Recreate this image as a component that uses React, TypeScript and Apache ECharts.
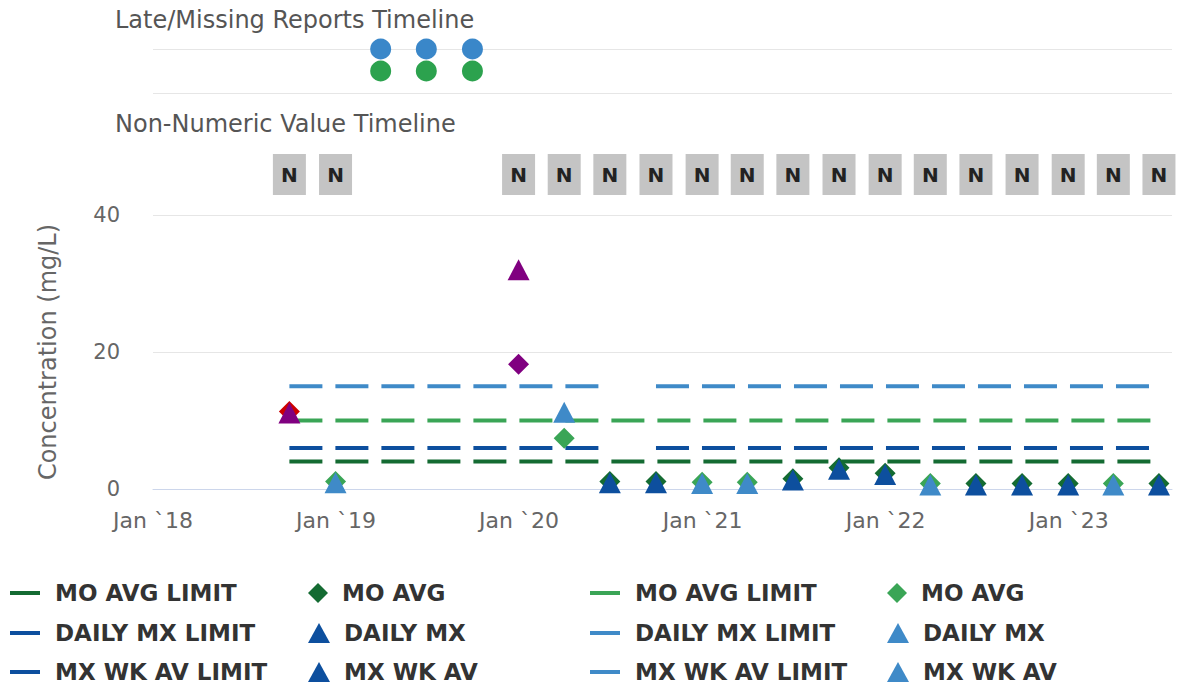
import React, { useEffect, useRef } from "react";
import * as echarts from "echarts";

const FONT = "'DejaVu Sans', Verdana, sans-serif";
const X_MIN = "2018-01-01";
const X_MAX = "2023-07-26";
const YEAR = 365 * 24 * 3600 * 1000;

// Late / missing reports (two rows: top = blue, bottom = green)
const lateDates = ["2019-03-31", "2019-06-30", "2019-09-30"];
// Non-numeric value flags
const nonNumericDates = [
  "2018-09-30", "2018-12-31", "2019-12-31", "2020-03-31", "2020-06-30", "2020-09-30",
  "2020-12-31", "2021-03-31", "2021-06-30", "2021-09-30", "2021-12-31", "2022-03-31",
  "2022-06-30", "2022-09-30", "2022-12-31", "2023-03-31", "2023-06-30",
];

// Limits: segments [start, end] with value
const moAvgLimitDark = { value: 4, segments: [["2018-09-30", "2023-06-30"]] };
const moAvgLimitLight = { value: 10, segments: [["2018-09-30", "2023-06-30"]] };
const dailyMxLimitDark = { value: 6, segments: [["2018-09-30", "2020-06-30"], ["2020-09-30", "2023-06-30"]] };
const dailyMxLimitLight = { value: 15, segments: [["2018-09-30", "2020-06-30"], ["2020-09-30", "2023-06-30"]] };

// Measured values, dark set
const moAvgDarkDates = ["2018-09-30", "2020-06-30", "2020-09-30", "2021-06-30", "2021-09-30", "2021-12-31", "2022-06-30", "2022-09-30", "2022-12-31", "2023-06-30"];
const moAvgDarkValues = [11.3, 1.1, 1.1, 1.5, 3.1, 2.3, 0.8, 0.8, 0.8, 0.8];
const dailyMxDarkDates = ["2018-09-30", "2020-06-30", "2020-09-30", "2021-06-30", "2021-09-30", "2021-12-31", "2022-06-30", "2022-09-30", "2022-12-31", "2023-06-30"];
const dailyMxDarkValues = [11.1, 0.9, 0.9, 1.3, 2.9, 2.1, 0.6, 0.6, 0.6, 0.6];
// Measured values, light set
const moAvgLightDates = ["2018-12-31", "2019-12-31", "2020-03-31", "2020-12-31", "2021-03-31", "2022-03-31", "2023-03-31"];
const moAvgLightValues = [1.1, 18.2, 7.4, 1.0, 1.0, 0.8, 0.8];
const dailyMxLightDates = ["2018-12-31", "2019-12-31", "2020-03-31", "2020-12-31", "2021-03-31", "2022-03-31", "2023-03-31"];
const dailyMxLightValues = [0.9, 32, 11.2, 0.8, 0.8, 0.6, 0.6];

// Exceedance highlight colours (by date)
const moAvgDarkExceed: Record<string, string> = { "2018-09-30": "#cc0000" };
const dailyMxDarkExceed: Record<string, string> = { "2018-09-30": "#800080" };
const moAvgLightExceed: Record<string, string> = { "2019-12-31": "#800080" };
const dailyMxLightExceed: Record<string, string> = { "2019-12-31": "#800080" };

const DARK_GREEN = "#146b32";
const LIGHT_GREEN = "#3aa556";
const DARK_BLUE = "#0d4f9e";
const LIGHT_BLUE = "#3f8ac8";
const LATE_BLUE = "#3a87c9";
const LATE_GREEN = "#2ca24e";

const legendRows = [593, 633, 672];
const legendCols = [10, 308, 590, 887];

function limitData(l: { value: number; segments: string[][] }) {
  const out: any[] = [];
  l.segments.forEach((s, i) => {
    if (i > 0) out.push([l.segments[i - 1][1], null]);
    out.push([s[0], l.value], [s[1], l.value]);
  });
  return out;
}

function pointData(dates: string[], values: number[], exceed: Record<string, string>) {
  return dates.map((d, i) =>
    exceed[d] ? { value: [d, values[i]], itemStyle: { color: exceed[d] } } : { value: [d, values[i]] }
  );
}

const strip = (n: string) => n.replace(/#2$/, "");

export default function App() {
  const ref = useRef<HTMLDivElement>(null);
  useEffect(() => {
    document.body.style.margin = "0";
    const chart = echarts.init(ref.current!, null, { renderer: "svg" });

    const limitLine = (name: string, color: string, data: any[]) => ({
      name, type: "line", xAxisIndex: 2, yAxisIndex: 2, data, color,
      symbol: "none", showSymbol: false, connectNulls: false, z: 2,
      lineStyle: { color, width: 4, type: [33, 13] },
    });
    const marks = (name: string, color: string, symbol: string, size: any, data: any[], z: number) => ({
      name, type: "scatter", xAxisIndex: 2, yAxisIndex: 2, data, color, symbol, symbolSize: size,
      itemStyle: { color, opacity: 1 }, z, clip: false,
    });

    const legendItems = [
      { name: "MO AVG LIMIT", icon: "rect", r: 0, c: 0 },
      { name: "MO AVG", icon: "diamond", r: 0, c: 1 },
      { name: "MO AVG LIMIT#2", icon: "rect", r: 0, c: 2 },
      { name: "MO AVG#2", icon: "diamond", r: 0, c: 3 },
      { name: "DAILY MX LIMIT", icon: "rect", r: 1, c: 0 },
      { name: "DAILY MX", icon: "triangle", r: 1, c: 1 },
      { name: "DAILY MX LIMIT#2", icon: "rect", r: 1, c: 2 },
      { name: "DAILY MX#2", icon: "triangle", r: 1, c: 3 },
      { name: "MX WK AV LIMIT", icon: "rect", r: 2, c: 0 },
      { name: "MX WK AV", icon: "triangle", r: 2, c: 1 },
      { name: "MX WK AV LIMIT#2", icon: "rect", r: 2, c: 2 },
      { name: "MX WK AV#2", icon: "triangle", r: 2, c: 3 },
    ];

    const legends = legendItems.map((it) => {
      const isLine = it.icon === "rect";
      return {
        left: legendCols[it.c],
        top: legendRows[it.r] - 14,
        padding: 0,
        icon: it.icon,
        itemWidth: isLine ? 30 : it.icon === "diamond" ? 20 : 22,
        itemHeight: isLine ? 4 : 20,
        selectedMode: false,
        data: [it.name],
        formatter: strip,
        textStyle: {
          fontFamily: FONT, fontSize: 23, fontWeight: "bold", color: "#333",
          lineHeight: 28, padding: [0, 0, 0, isLine ? 10 : 9],
        },
      };
    });

    const hiddenX = (gi: number) => ({ type: "time", gridIndex: gi, min: X_MIN, max: X_MAX, show: false });

    const option: any = {
      animation: false,
      textStyle: { fontFamily: FONT },
      title: [
        { text: "Late/Missing Reports Timeline", left: 115, top: 8, padding: 0, textStyle: { fontFamily: FONT, fontSize: 24, fontWeight: "normal", color: "#555" } },
        { text: "Non-Numeric Value Timeline", left: 115, top: 112, padding: 0, textStyle: { fontFamily: FONT, fontSize: 24, fontWeight: "normal", color: "#555" } },
      ],
      legend: legends,
      grid: [
        { left: 153, right: 8, top: 49, height: 44 },
        { left: 153, right: 8, top: 154, height: 41 },
        { left: 153, right: 8, top: 215, height: 274 },
      ],
      xAxis: [
        hiddenX(0),
        hiddenX(1),
        {
          type: "time", gridIndex: 2, min: X_MIN, max: X_MAX,
          minInterval: YEAR, maxInterval: YEAR,
          axisLine: { lineStyle: { color: "#ccd6eb", width: 1 } },
          axisTick: { show: false },
          splitLine: { show: false },
          axisLabel: {
            fontFamily: FONT, fontSize: 22, color: "#666", margin: 20, hideOverlap: false,
            formatter: (v: number) => {
              const d = new Date(v);
              return d.getMonth() === 0 && d.getDate() === 1 ? "Jan `" + String(d.getFullYear()).slice(2) : "";
            },
          },
        },
      ],
      yAxis: [
        {
          type: "value", gridIndex: 0, min: 0, max: 2, interval: 2,
          axisLabel: { show: false }, axisLine: { show: false }, axisTick: { show: false },
          splitLine: { lineStyle: { color: "#e6e6e6" } },
        },
        { type: "value", gridIndex: 1, min: 0, max: 2, show: false },
        {
          type: "value", gridIndex: 2, min: 0, max: 40, interval: 20,
          name: "Concentration (mg/L)", nameLocation: "middle", nameGap: 93,
          nameTextStyle: { fontFamily: FONT, fontSize: 24, color: "#666" },
          axisLine: { show: false }, axisTick: { show: false },
          axisLabel: { fontFamily: FONT, fontSize: 21, color: "#666", margin: 33 },
          splitLine: { lineStyle: { color: "#e6e6e6" } },
        },
      ],
      series: [
        {
          type: "scatter", xAxisIndex: 0, yAxisIndex: 0, symbol: "circle", symbolSize: 21, clip: false,
          itemStyle: { color: LATE_BLUE, opacity: 1 }, data: lateDates.map((d) => [d, 2]),
        },
        {
          type: "scatter", xAxisIndex: 0, yAxisIndex: 0, symbol: "circle", symbolSize: 21, clip: false,
          itemStyle: { color: LATE_GREEN, opacity: 1 }, data: lateDates.map((d) => [d, 1]),
        },
        {
          type: "scatter", xAxisIndex: 1, yAxisIndex: 1, symbol: "rect", symbolSize: [33, 41], clip: false,
          itemStyle: { color: "#c4c4c4", opacity: 1 },
          label: { show: true, position: "inside", formatter: "N", fontFamily: FONT, fontSize: 20, fontWeight: "bold", color: "#222" },
          data: nonNumericDates.map((d) => [d, 1]),
        },
        limitLine("MO AVG LIMIT", DARK_GREEN, limitData(moAvgLimitDark)),
        limitLine("DAILY MX LIMIT", DARK_BLUE, limitData(dailyMxLimitDark)),
        limitLine("MX WK AV LIMIT", DARK_BLUE, []),
        limitLine("MO AVG LIMIT#2", LIGHT_GREEN, limitData(moAvgLimitLight)),
        limitLine("DAILY MX LIMIT#2", LIGHT_BLUE, limitData(dailyMxLimitLight)),
        limitLine("MX WK AV LIMIT#2", LIGHT_BLUE, []),
        marks("MO AVG", DARK_GREEN, "diamond", 21, pointData(moAvgDarkDates, moAvgDarkValues, moAvgDarkExceed), 3),
        marks("MO AVG#2", LIGHT_GREEN, "diamond", 21, pointData(moAvgLightDates, moAvgLightValues, moAvgLightExceed), 3),
        marks("DAILY MX", DARK_BLUE, "triangle", [22, 21], pointData(dailyMxDarkDates, dailyMxDarkValues, dailyMxDarkExceed), 4),
        marks("DAILY MX#2", LIGHT_BLUE, "triangle", [22, 21], pointData(dailyMxLightDates, dailyMxLightValues, dailyMxLightExceed), 4),
        marks("MX WK AV", DARK_BLUE, "triangle", [22, 21], [], 4),
        marks("MX WK AV#2", LIGHT_BLUE, "triangle", [22, 21], [], 4),
      ],
    };

    chart.setOption(option);
    return () => chart.dispose();
  }, []);
  return <div ref={ref} style={{ width: 1180, height: 685 }} />;
}
